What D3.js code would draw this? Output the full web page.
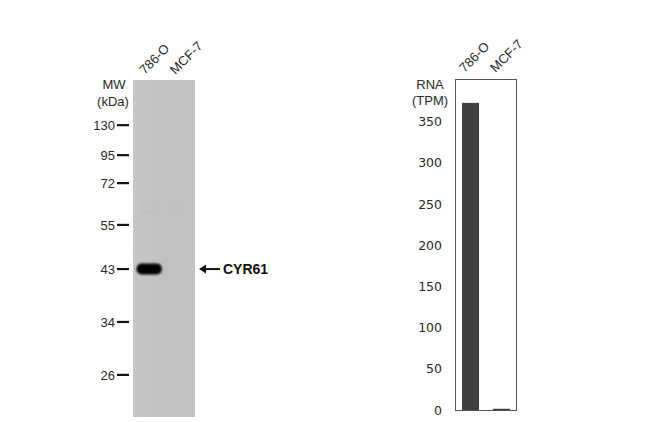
<!DOCTYPE html>
<html><head><meta charset="utf-8">
<script src="https://cdn.jsdelivr.net/npm/d3@7/dist/d3.min.js"></script>
<style>body{margin:0;background:#fff}svg{display:block}</style>
</head><body>
<svg id="c" width="650" height="422"></svg>
<script>
// ---- data ----
const lanes = ["786-O", "MCF-7"];
const mwMarkers = [130, 95, 72, 55, 43, 34, 26];
// relative migration distance of each marker in the lane (0 = top of gel, 1 = bottom)
const mwMigration = [0.134, 0.223, 0.306, 0.430, 0.561, 0.718, 0.875];
const targetName = "CYR61";
const targetMW = 43;
const bandIntensity = [1, 0];
const rnaValues = [373, 1.5];
const rnaTicks = [0, 50, 100, 150, 200, 250, 300, 350];

const svg = d3.select("#c");
const font = "Liberation Sans, Arial, sans-serif";
const txt = "#2a2a2a";

// ---- blot ----
const blot = {x0: 133, x1: 195, y0: 80, y1: 417};
const yMig = d3.scaleLinear().domain([0, 1]).range([blot.y0, blot.y1]);
const mwY = d3.scaleOrdinal().domain(mwMarkers).range(mwMigration.map(yMig));
const xLane = d3.scaleBand().domain(lanes).range([blot.x0, blot.x1]).paddingInner(0.08).paddingOuter(0.05);

const defs = svg.append("defs");
const g1 = defs.append("linearGradient").attr("id", "gel").attr("x1", 0).attr("x2", 1);
g1.append("stop").attr("offset", 0).attr("stop-color", "#c6c6c6");
g1.append("stop").attr("offset", 0.5).attr("stop-color", "#c1c1c1");
g1.append("stop").attr("offset", 1).attr("stop-color", "#c3c3c3");
const blur = defs.append("filter").attr("id", "blur").attr("x", -0.2).attr("y", -0.5).attr("width", 1.4).attr("height", 2);
blur.append("feGaussianBlur").attr("stdDeviation", 0.9);
const blur2 = defs.append("filter").attr("id", "blur2").attr("x", -0.2).attr("y", -2).attr("width", 1.4).attr("height", 5);
blur2.append("feGaussianBlur").attr("stdDeviation", 1.5);

svg.append("rect").attr("x", blot.x0).attr("y", blot.y0)
  .attr("width", blot.x1 - blot.x0).attr("height", blot.y1 - blot.y0)
  .attr("fill", "url(#gel)");

// faint background bands
[0.365, 0.395].forEach(m => {
  lanes.forEach(l => {
    svg.append("rect").attr("x", xLane(l) + 3).attr("y", yMig(m) - 1.5)
      .attr("width", xLane.bandwidth() - 6).attr("height", 3)
      .attr("fill", "#b8b8b8").attr("opacity", 0.4).attr("filter", "url(#blur2)");
  });
});

// target band
lanes.forEach((l, i) => {
  if (bandIntensity[i] <= 0) return;
  svg.append("rect")
    .attr("x", xLane(l) + 2).attr("y", mwY(targetMW) - 5.5)
    .attr("width", xLane.bandwidth() - 3).attr("height", 11)
    .attr("rx", 5).attr("ry", 5)
    .attr("fill", "#000").attr("opacity", bandIntensity[i])
    .attr("filter", "url(#blur)");
});

// MW markers
const mw = svg.append("g");
mwMarkers.forEach(m => {
  const y = mwY(m);
  mw.append("line").attr("x1", 117).attr("x2", 129).attr("y1", y).attr("y2", y)
    .attr("stroke", "#111").attr("stroke-width", 2.2);
  mw.append("text").attr("x", 115).attr("y", y).attr("dy", "0.36em")
    .attr("text-anchor", "end").attr("font-family", font).attr("font-size", 13)
    .attr("fill", txt).text(m);
});
mw.append("text").attr("x", 114).attr("y", 89).attr("text-anchor", "middle")
  .attr("font-family", font).attr("font-size", 13).attr("fill", txt).text("MW");
mw.append("text").attr("x", 113).attr("y", 106).attr("text-anchor", "middle")
  .attr("font-family", font).attr("font-size", 13).attr("fill", txt).text("(kDa)");

// lane labels (blot)
lanes.forEach(l => {
  const cx = xLane(l) + xLane.bandwidth() / 2;
  svg.append("text").attr("transform", `translate(${cx - 4},${blot.y0 - 5}) rotate(-45)`)
    .attr("font-family", font).attr("font-size", 13).attr("fill", txt).text(l);
});

// arrow + target label
const ay = mwY(targetMW);
svg.append("line").attr("x1", 202).attr("x2", 220).attr("y1", ay).attr("y2", ay)
  .attr("stroke", "#111").attr("stroke-width", 2);
svg.append("path").attr("d", `M199,${ay} L206,${ay - 4.5} L206,${ay + 4.5} Z`).attr("fill", "#111");
svg.append("text").attr("x", 223).attr("y", ay).attr("dy", "0.36em")
  .attr("font-family", font).attr("font-size", 14).attr("font-weight", "bold")
  .attr("fill", "#111").text(targetName);

// ---- RNA bar chart ----
const box = {x0: 455, x1: 517, y0: 79, y1: 410};
const y = d3.scaleLinear().domain([0, 402]).range([box.y1, box.y0]);
const x = d3.scaleBand().domain(lanes).range([box.x0, box.x1]).paddingInner(0.45).paddingOuter(0.226);

svg.append("rect").attr("x", box.x0 + 0.5).attr("y", box.y0 + 0.5)
  .attr("width", box.x1 - box.x0 - 1).attr("height", box.y1 - box.y0)
  .attr("fill", "none").attr("stroke", "#555").attr("stroke-width", 1);

svg.append("g").selectAll("rect").data(lanes).join("rect")
  .attr("x", d => x(d)).attr("width", x.bandwidth())
  .attr("y", (d, i) => y(rnaValues[i])).attr("height", (d, i) => y(0) - y(rnaValues[i]))
  .attr("fill", "#404040");

const yAxis = d3.axisLeft(y).tickValues(rnaTicks).tickSize(0).tickPadding(0);
const ya = svg.append("g").attr("transform", `translate(442,0)`).call(yAxis);
ya.select(".domain").remove();
ya.selectAll("text").attr("font-family", "DejaVu Sans, sans-serif").attr("font-size", 12.5)
  .attr("fill", txt);

svg.append("text").attr("x", 430).attr("y", 89).attr("text-anchor", "middle")
  .attr("font-family", font).attr("font-size", 13).attr("fill", txt).text("RNA");
svg.append("text").attr("x", 430).attr("y", 105).attr("text-anchor", "middle")
  .attr("font-family", font).attr("font-size", 13).attr("fill", txt).text("(TPM)");

lanes.forEach(l => {
  const cx = x(l) + x.bandwidth() / 2;
  svg.append("text").attr("transform", `translate(${cx - 6},${box.y0 - 6}) rotate(-45)`)
    .attr("font-family", font).attr("font-size", 13).attr("fill", txt).text(l);
});
</script>
</body></html>
